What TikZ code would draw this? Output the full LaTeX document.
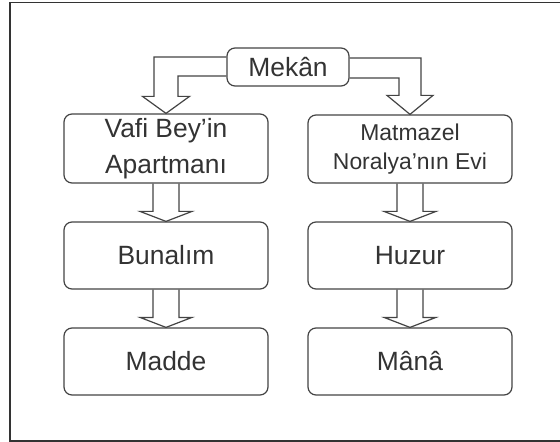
\documentclass[tikz,border=0pt]{standalone}
\usepackage{fontspec}
\setmainfont{Liberation Sans}
\usetikzlibrary{calc}
\definecolor{linec}{HTML}{444444}
\definecolor{textc}{HTML}{333333}
\tikzset{
  box/.style={draw=linec, line width=1.2bp, rounded corners=8bp, inner sep=0pt,
    align=center, text=textc, font=\fontsize{26.5}{36.5}\selectfont},
  arrowline/.style={draw=linec, line width=1.2bp, line join=miter},
}
\newcommand\varrow[2]{%
  \draw[arrowline] ($(#1.south)+(-13,0)$) -- ($(#2.north)+(-13,-10)$) -- ($(#2.north)+(-26,-10)$)
    -- (#2.north) -- ($(#2.north)+(26,-10)$) -- ($(#2.north)+(13,-10)$) -- ($(#1.south)+(13,0)$);}
\begin{document}
\begin{tikzpicture}[x=1bp,y=-1bp]
\useasboundingbox (0,0) rectangle (560,442);
\fill[white] (0,0) rectangle (560,442);
\draw[draw=textc, line width=1.5bp] (560,2.5) -- (10,2.5) -- (10,441) -- (560,441);
% nodes
\node[box, minimum width=122bp, minimum height=38bp] (mekan) at (288,67) {Mekân};
\node[box, minimum width=204bp, minimum height=69bp] (vafi) at (166,148.5) {Vafi Bey’in\\Apartmanı};
\node[box, minimum width=204bp, minimum height=68bp, font=\fontsize{23}{29}\selectfont] (mat) at (410,149) {Matmazel\\Noralya’nın Evi};
\node[box, minimum width=204bp, minimum height=67bp] (bun) at (166,255.5) {Bunalım};
\node[box, minimum width=204bp, minimum height=67bp] (huz) at (410,255.5) {Huzur};
\node[box, minimum width=204bp, minimum height=67bp] (mad) at (166,361.5) {Madde};
\node[box, minimum width=204bp, minimum height=67bp] (mana) at (410,361.5) {Mânâ};
% arrows from Mekân
\draw[arrowline] ($(mekan.west)+(0,-10)$) -| ($(vafi.north)+(-12,-17)$) -- ++(-11.5,0)
  -- (vafi.north) -- ($(vafi.north)+(23.5,-17)$) -- ++(-11.5,0) |- ($(mekan.west)+(0,9)$);
\draw[arrowline] ($(mekan.east)+(0,-9)$) -| ($(mat.north)+(11,-19)$) -- ++(12,0)
  -- (mat.north) -- ($(mat.north)+(-23,-19)$) -- ++(12,0) |- ($(mekan.east)+(0,11)$);
% vertical arrows
\varrow{vafi}{bun}
\varrow{bun}{mad}
\varrow{mat}{huz}
\varrow{huz}{mana}
\end{tikzpicture}
\end{document}
